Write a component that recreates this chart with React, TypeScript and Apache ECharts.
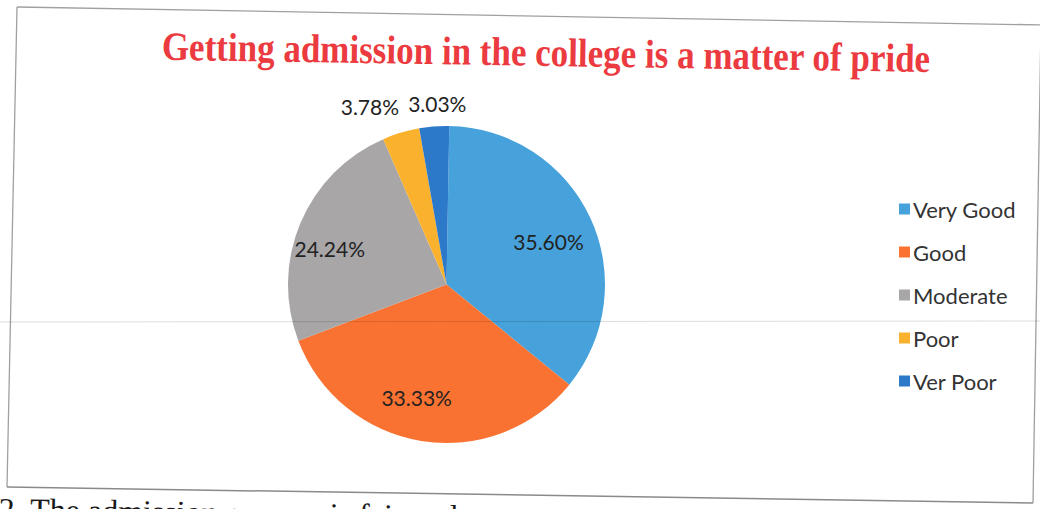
import React, { useEffect, useRef } from "react";
import * as echarts from "echarts";

const TITLE = "Getting admission in the college is a matter of pride";
const FOOTER = "2. The admission process is fair and";
const categories = ["Very Good", "Good", "Moderate", "Poor", "Ver Poor"];
const values = [35.6, 33.33, 24.24, 3.78, 3.03];
const colors = ["#47A2DC", "#FA7231", "#A8A6A7", "#FAB22E", "#2C79CA"];
// which labels sit inside the pie, which sit above it
const innerLabels = [true, true, true, false, false];

const fmt = (v: number) => `${v.toFixed(2)}%`;

export default function App() {
  const ref = useRef<HTMLDivElement>(null);
  useEffect(() => {
    document.body.style.margin = "0";
    const chart = echarts.init(ref.current!, undefined, { renderer: "svg" });
    const center = [446.5, 284.5];
    const labelFont = { fontFamily: "Lato", fontSize: 21, color: "#222222" };
    const mainData = categories.map((name, i) => ({
      name,
      value: values[i],
      itemStyle: { color: colors[i] },
    }));
    const labelData = (inner: boolean) =>
      categories.map((name, i) => ({
        name,
        value: values[i],
        label: { show: innerLabels[i] === inner },
      }));
    const nudge: Record<number, [number, number]> = {
      0: [-5, 7],
      1: [-11, -3],
      2: [-8, 10],
      3: [-24, -3],
      4: [5, 1],
    };
    const labelLayout = (p: any) => {
      const n = nudge[p.dataIndex] || [0, 0];
      return { dx: n[0], dy: n[1] };
    };
    chart.setOption({
      animation: false,
      legend: {
        orient: "vertical",
        left: 894,
        top: 193,
        icon: "rect",
        itemWidth: 11,
        itemHeight: 11,
        itemGap: 21,
        selectedMode: false,
        data: categories,
        textStyle: { fontFamily: "Lato", fontSize: 22, lineHeight: 22, color: "#333333", padding: [0, 0, 0, -2] },
      },
      graphic: [
        {
          type: "text",
          x: 546,
          y: 52,
          rotation: -0.016,
          scaleY: 1.15,
          style: {
            text: TITLE,
            font: 'bold 35px "Liberation Serif"',
            fill: "#EC3B40",
            align: "center",
            verticalAlign: "middle",
          },
        },
        {
          type: "text",
          x: -1,
          y: 493,
          rotation: -0.016,
          style: {
            text: FOOTER,
            font: '32px "Liberation Serif"',
            fill: "#1a1a1a",
            align: "left",
            verticalAlign: "top",
          },
        },
        { type: "line", shape: { x1: 17, y1: 7, x2: 1045, y2: 25 }, style: { stroke: "#a0a0a0", lineWidth: 1.3 } },
        { type: "line", shape: { x1: 17, y1: 7, x2: 7, y2: 487 }, style: { stroke: "#a0a0a0", lineWidth: 1.3 } },
        { type: "line", shape: { x1: 7, y1: 487, x2: 1033, y2: 503 }, style: { stroke: "#8a8a8a", lineWidth: 1.5 } },
        { type: "line", shape: { x1: 1041, y1: 25, x2: 1033, y2: 503 }, style: { stroke: "#a0a0a0", lineWidth: 1.3 } },
        { type: "line", z: 100, shape: { x1: 0, y1: 322, x2: 1040, y2: 321 }, style: { stroke: "rgba(0,0,0,0.14)", lineWidth: 1 } },
      ],
      series: [
        {
          type: "pie",
          center,
          radius: 158.5,
          startAngle: 89,
          clockwise: true,
          label: { show: false },
          labelLine: { show: false },
          emphasis: { disabled: true },
          itemStyle: { borderWidth: 0 },
          data: mainData,
        },
        {
          type: "pie",
          center,
          radius: 230,
          startAngle: 89,
          silent: true,
          legendHoverLink: false,
          itemStyle: { color: "rgba(0,0,0,0)", borderWidth: 0 },
          emphasis: { disabled: true },
          labelLine: { show: false },
          label: { position: "inside", formatter: (p: any) => fmt(p.value), ...labelFont },
          labelLayout,
          data: labelData(true),
        },
        {
          type: "pie",
          center,
          radius: 360,
          startAngle: 89,
          silent: true,
          legendHoverLink: false,
          itemStyle: { color: "rgba(0,0,0,0)", borderWidth: 0 },
          emphasis: { disabled: true },
          labelLine: { show: false },
          label: { position: "inside", formatter: (p: any) => fmt(p.value), ...labelFont },
          labelLayout,
          data: labelData(false),
        },
      ],
    });
    return () => chart.dispose();
  }, []);
  return <div ref={ref} style={{ width: 1040, height: 509 }} />;
}
